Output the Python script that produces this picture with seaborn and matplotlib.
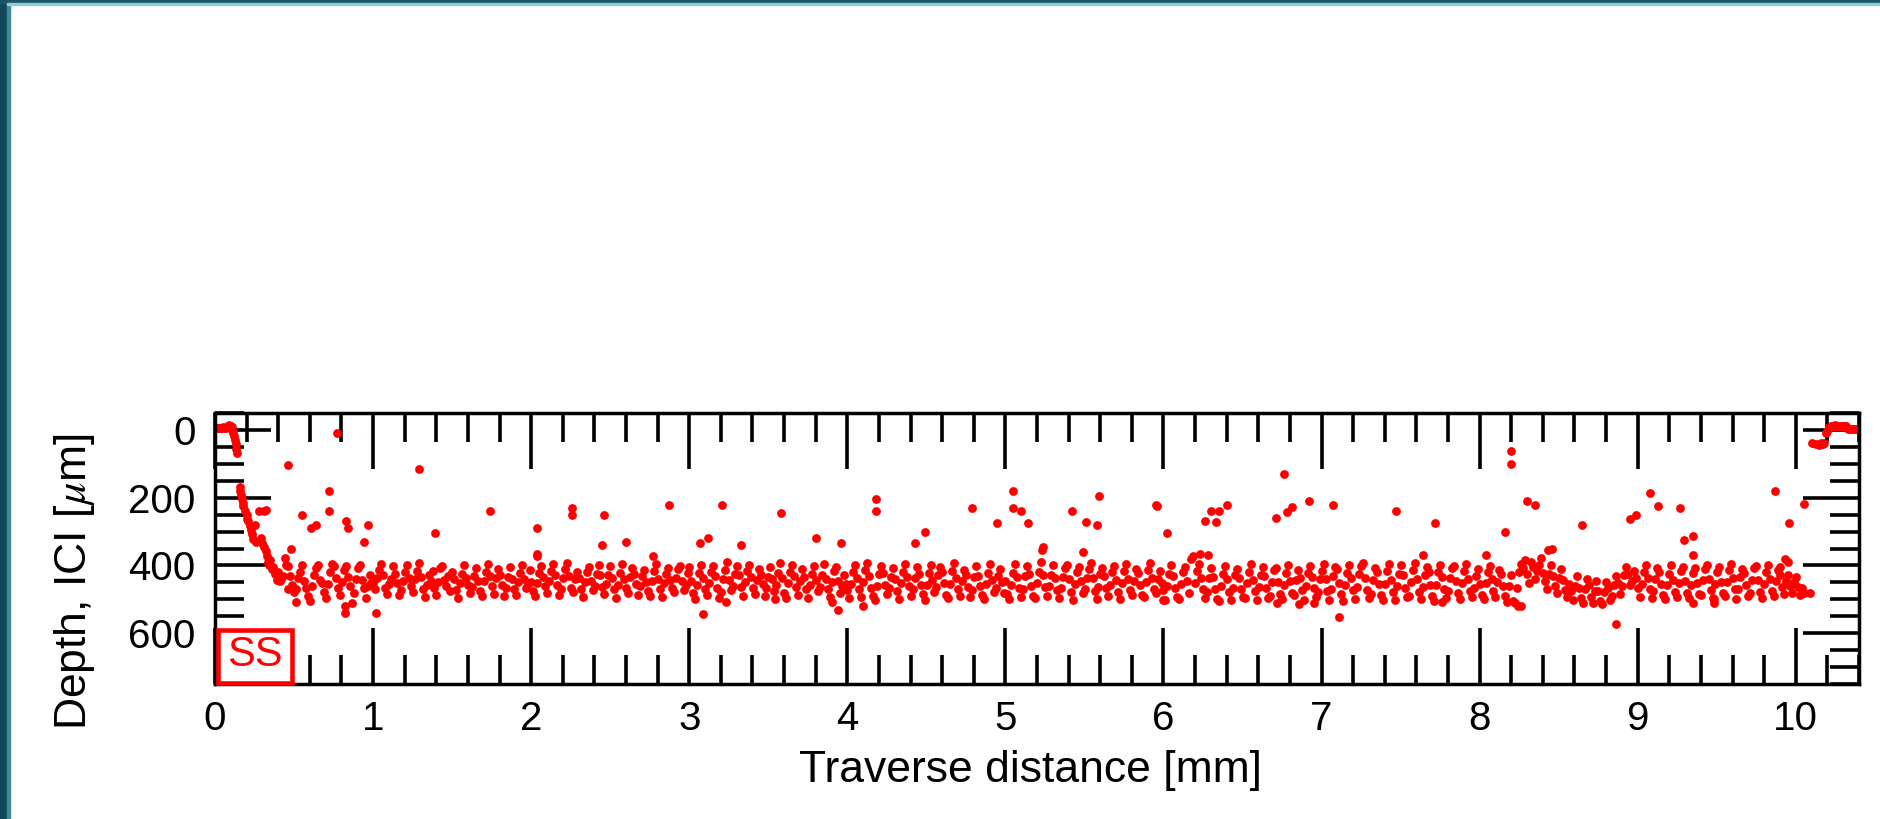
import numpy as np
import pandas as pd
import matplotlib
matplotlib.use("Agg")
import matplotlib.pyplot as plt
import seaborn as sns
from matplotlib.patches import Rectangle
from matplotlib.ticker import MultipleLocator, FixedLocator

# ---------------- data ----------------
start_x = [0.000, 0.010, 0.020, 0.030, 0.040, 0.050, 0.060, 0.070, 0.080, 0.090, 0.100, 0.105,
           0.110, 0.115, 0.120, 0.125, 0.130, 0.135, 0.140]
start_y = [-5, -6, -7, -5, -6, -8, -6, -5, -12, -14, -13, -8,
           0, 8, 18, 30, 42, 55, 68]

curve_x = [0.155, 0.160, 0.165, 0.170, 0.175, 0.180, 0.190, 0.200, 0.205, 0.210, 0.220, 0.225,
           0.235, 0.240, 0.250, 0.260, 0.280, 0.290, 0.300, 0.310, 0.310, 0.320, 0.320, 0.330,
           0.335, 0.340, 0.350, 0.360, 0.370, 0.380, 0.390, 0.400, 0.410, 0.420, 0.430, 0.440]
curve_y = [167, 180, 192, 203, 215, 226, 240, 251, 262, 270, 285, 296,
           308, 322, 281, 330, 240, 320, 335, 240, 345, 237, 356, 372,
           390, 400, 385, 410, 404, 424, 443, 420, 445, 440, 430, 379]

band_a = [398, 402, 431, 459, 478, 470, 436, 418, 400, 447, 468, 491, 505, 462, 428, 409, 399, 442,
          451, 478, 496, 455, 420, 395, 401, 437, 466, 488, 449, 414, 402, 433, 461, 512, 480, 441,
          409, 398, 442, 468, 495, 460, 427, 452]
band_b = [452, 471, 438, 412, 397, 429, 466, 484, 455, 441, 403, 424, 451, 487, 472, 446, 420, 398, 437, 460,
          478, 441, 415, 392, 433, 469, 494, 458, 427, 445, 416, 468, 488, 450, 409, 401, 442, 461, 432, 475,
          419, 440, 473, 496, 451, 426, 400, 436, 458, 482, 463, 431, 407, 445, 474, 489, 447, 418, 396, 431,
          462, 483, 437, 411, 428, 459, 491, 466, 434, 404, 439, 471, 486, 449, 422, 399, 441, 468, 455, 413]
band_c = [448, 476, 490, 452, 421, 401, 433, 461, 482, 447, 415, 396, 427, 458, 488, 469, 436, 410, 392, 431,
          466, 479, 440, 418, 438, 471, 493, 450, 419, 404, 445, 472, 460, 424, 398, 429, 463, 485, 455, 428,
          402, 437, 470, 496, 458, 421, 395, 441, 467, 481, 434, 407, 425, 456, 486, 462, 430, 412, 448, 475,
          489, 447, 416, 397, 439, 469, 492, 453, 426, 408, 443, 466, 478, 437, 411, 401, 446, 473, 459, 422]
band_d = [405, 447, 482, 498, 458, 423, 399, 436, 469, 487, 452, 418, 402, 431, 466, 495, 477, 440, 413, 391,
          444, 472, 461, 425, 403, 428, 463, 489, 450, 417, 398, 435, 468, 484, 442, 410, 427, 455, 490, 467,
          433, 406, 439, 474, 459, 421, 394, 437, 480, 496, 451, 419, 400, 430, 465, 488, 446, 411, 434, 470,
          495, 457, 424, 401, 443, 476, 463, 428, 397, 439, 471, 492, 448, 416, 405, 447, 482, 461, 429, 454]
band_e = [473, 497, 455, 419, 398, 437, 470, 492, 449, 414, 392, 431, 467, 489, 503, 461, 426, 401, 422, 458,
          485, 468, 433, 407, 440, 474, 499, 452, 418, 395, 435, 462, 490, 471, 436, 405, 426, 457, 483, 501,
          459, 423, 399, 442, 478, 465, 429, 404, 420, 451, 486, 496, 454, 417, 393, 438, 469, 491, 446, 412,
          427, 463, 494, 472, 434, 402, 430, 461, 488, 500, 455, 421, 397, 444, 477, 466, 432, 410, 448, 481]
band_f = [446, 485, 499, 458, 421, 396, 433, 468, 494, 470, 431, 403, 425, 461, 490, 497, 452, 418, 390, 429,
          464, 489, 462, 427, 400, 436, 472, 496, 466, 434, 408, 398, 441, 477, 501, 455, 420, 405, 447, 482,
          470, 436, 410, 393, 438, 474, 498, 463, 426, 409, 432, 468, 491, 457, 419, 401, 443, 479, 500, 451,
          417, 397, 440, 473, 488, 445, 411, 423, 459, 486, 493, 448, 413, 394, 437, 470, 482, 441, 415, 452]
band_g = [472, 503, 461, 424, 399, 431, 466, 494, 498, 455, 420, 404, 447, 482, 380, 372, 452, 416, 395, 438,
          469, 496, 479, 436, 408, 433, 471, 499, 505, 462, 425, 402, 440, 478, 502, 466, 428, 410, 436, 471,
          492, 497, 453, 418, 396, 442, 476, 503, 463, 427, 405, 431, 468, 495, 491, 449, 414, 407, 450, 484,
          500, 458, 421, 398, 446, 481, 486, 442, 412, 437, 472, 501, 460, 423, 401, 433, 467, 493, 478, 441]
band_h = [416, 397, 440, 476, 502, 469, 431, 405, 411, 452, 485, 504, 459, 421, 399, 438, 473, 498, 464, 426,
          403, 392, 437, 472, 497, 483, 444, 409, 418, 456, 488, 501, 455, 417, 396, 443, 478, 503, 461, 425,
          400, 427, 466, 494, 490, 448, 412, 393, 441, 477, 500, 465, 428, 404, 420, 458, 489, 504, 457, 419,
          398, 434, 470, 497, 474, 437, 407, 402, 445, 481, 499, 452, 415, 395, 439, 475, 492, 468, 430, 410]
band_i = [455, 487, 499, 451, 418, 401, 441, 475, 493, 448, 412, 426, 462, 490, 507, 460, 428, 505, 512, 466,
          420, 396, 407, 384, 424, 452, 391, 405, 440, 415, 398, 378, 421, 447, 470, 426, 399, 431, 462, 481,
          438, 410, 444, 473, 494, 455, 476, 503, 461, 432, 466, 497, 510, 469, 441, 459, 493, 512, 474, 447,
          475, 506, 515, 478, 450, 468, 501, 489, 458, 430, 451, 484, 462, 429, 405, 426, 458, 447, 416, 437]
band_j = [466, 493, 455, 420, 398, 437, 470, 497, 474, 441, 408, 419, 456, 488, 499, 459, 424, 400, 443, 477,
          494, 452, 416, 404, 446, 480, 497, 458, 423, 409, 451, 485, 488, 443, 411, 399, 440, 473, 496, 455,
          419, 405, 448, 482, 490, 449, 414, 397, 438, 470, 498, 471, 433, 410, 421, 458, 490, 481, 442, 407,
          403, 444, 478, 495, 456, 420, 399, 441, 474, 489, 447, 412, 429, 465, 484, 445, 428, 460, 481, 449,
          435, 463, 487, 466, 482]
band_segments = [(0.45, 0.99, band_a), (1.00, 1.99, band_b), (2.00, 2.99, band_c), (3.00, 3.99, band_d),
                 (4.00, 4.99, band_e), (5.00, 5.99, band_f), (6.00, 6.99, band_g), (7.00, 7.99, band_h),
                 (8.00, 8.99, band_i), (9.00, 10.05, band_j)]

outlier_x = [0.46, 0.77, 1.29, 0.72, 0.72, 0.55, 0.61, 0.64, 0.83, 0.84, 0.97, 0.94, 0.48, 1.39, 1.74,
             2.04, 2.26, 2.26, 2.46, 2.87, 3.21, 3.58, 4.18, 4.18, 3.80, 3.96, 3.07, 3.12, 3.33, 2.60,
             2.45, 2.04, 2.04, 2.77, 3.09, 3.23, 3.94, 3.90, 4.10, 3.54, 1.02, 0.82, 0.82, 0.51, 0.46,
             4.49, 4.43, 4.79, 4.95, 5.05, 5.05, 5.10, 5.14, 5.42, 5.51, 5.59, 5.58, 5.95, 5.96, 6.02,
             6.26, 6.30, 6.35, 6.33, 6.40, 6.76, 6.71, 6.78, 6.81, 6.92, 7.07, 7.47, 7.72, 8.20, 8.20,
             8.30, 8.35, 8.16, 8.43, 7.11, 6.72, 6.86, 6.95, 8.24, 7.76, 6.00, 5.23, 5.24, 5.49, 6.23,
             6.28, 7.64, 8.04, 8.65, 8.46, 8.95, 8.99, 9.08, 9.13, 9.27, 9.29, 9.35, 9.35, 9.87, 9.96,
             10.05, 8.86, 8.26, 9.35, 9.48, 9.48, 10.09, 9.93, 9.95, 9.90]
outlier_y = [104, 10, 115, 180, 240, 251, 290, 281, 269, 290, 281, 331, 350, 305, 240,
             290, 229, 251, 251, 221, 221, 246, 205, 239, 320, 335, 335, 320, 340, 330,
             340, 365, 372, 371, 542, 509, 532, 509, 520, 500, 540, 540, 520, 509, 470,
             300, 335, 230, 275, 180, 230, 240, 276, 240, 271, 196, 282, 222, 226, 305,
             268, 239, 239, 271, 221, 131, 261, 241, 227, 211, 221, 240, 276, 61, 100,
             211, 221, 300, 353, 552, 510, 514, 512, 520, 509, 502, 355, 345, 360, 366,
             370, 370, 370, 281, 352, 262, 252, 185, 224, 230, 326, 314, 370, 181, 276,
             220, 573, 521, 511, 499, 511, 481, 380, 390, 405]

end_x = [10.10, 10.13, 10.15, 10.16, 10.17, 10.18, 10.19, 10.20, 10.21, 10.22, 10.23, 10.24, 10.25,
         10.26, 10.27, 10.28, 10.29, 10.30, 10.31, 10.32, 10.33, 10.34, 10.35, 10.36, 10.37, 10.38,
         10.39, 10.40]
end_y = [40, 41, 44, 40, 42, 38, 10, 3, -8, -12, -13, -12, -14, -12, -13, -12, -11, -12, -13, -12,
         -3, -2, -3, -2, -2, -3, -2, -2]

x_ticks = [0, 1, 2, 3, 4, 5, 6, 7, 8, 9, 10]
y_ticks = [0, 200, 400, 600]

# ---------------- assemble ----------------
xs, ys = list(start_x) + list(curve_x), list(start_y) + list(curve_y)
for a, b, vals in band_segments:
    xs += list(np.linspace(a, b, len(vals)))
    ys += list(vals)
xs += outlier_x + end_x
ys += outlier_y + end_y
df = pd.DataFrame({"distance": xs, "depth": ys})

# ---------------- figure ----------------
sns.set_theme(style="ticks")
plt.rcParams["font.family"] = ["Liberation Sans", "DejaVu Sans"]
plt.rcParams["mathtext.fontset"] = "stix"
MAJ, MIN, TW = 40, 21, 2.6
plt.rcParams.update({
    "xtick.direction": "in", "ytick.direction": "in",
    "xtick.top": True, "ytick.right": True,
    "xtick.major.size": MAJ, "ytick.major.size": MAJ,
    "xtick.minor.size": MIN, "ytick.minor.size": MIN,
    "xtick.major.width": TW, "ytick.major.width": TW,
    "xtick.minor.width": TW, "ytick.minor.width": TW,
    "xtick.color": "black", "ytick.color": "black",
    "xtick.labelsize": 29, "ytick.labelsize": 29,
    "xtick.major.pad": 11.5, "ytick.major.pad": 14,
    "axes.linewidth": 2.5, "axes.edgecolor": "black",
})

W, H = 1880, 819
fig = plt.figure(figsize=(W / 100, H / 100), dpi=100, facecolor="white")
ax = fig.add_axes([215 / W, (H - 684) / H, 1644 / W, 271 / H])

sns.scatterplot(data=df, x="distance", y="depth", color="#ff0000", s=40,
                linewidth=0, ax=ax, legend=False, zorder=2)

ax.set_xlim(0, 10.4)
ax.set_ylim(750, -50)
ax.xaxis.set_major_locator(FixedLocator(x_ticks))
ax.xaxis.set_minor_locator(MultipleLocator(0.2))
ax.yaxis.set_major_locator(FixedLocator(y_ticks))
ax.yaxis.set_minor_locator(MultipleLocator(50))
ax.set_xticklabels([str(t) for t in x_ticks])
ax.set_yticklabels([str(t) for t in y_ticks])
ax.tick_params(which="both", direction="in", top=True, right=True)
ax.tick_params(which="major", length=MAJ, width=TW)
ax.tick_params(which="minor", length=MIN, width=TW)

ax.set_xlabel("Traverse distance [mm]", fontsize=32, color="black")
ax.xaxis.set_label_coords(0.496, -0.243)
ax.set_ylabel(r"Depth, ICI [$\mu$m]", fontsize=32, color="black")
ax.yaxis.set_label_coords(-0.0718, 0.376)

ax.add_patch(Rectangle((0.0018, 0.003), 0.045, 0.198, transform=ax.transAxes,
                       facecolor="white", edgecolor="#ff0000", linewidth=3.3,
                       zorder=5, clip_on=False))
ax.text(0.0243, 0.108, "SS", transform=ax.transAxes, ha="center", va="center",
        fontsize=30, color="#ff0000", zorder=6)

fig.add_artist(Rectangle((0, 0), 7 / W, 1, transform=fig.transFigure, color="#15475b", zorder=0))
fig.add_artist(Rectangle((7 / W, 0), 2.5 / W, 1, transform=fig.transFigure, color="#3a8c99", zorder=0))
fig.add_artist(Rectangle((0, 1 - 2.5 / H), 1, 2.5 / H, transform=fig.transFigure, color="#1b5566", zorder=0))
fig.add_artist(Rectangle((7 / W, 1 - 4.5 / H), 1, 2 / H, transform=fig.transFigure, color="#8fcbd1", zorder=0))

fig.savefig("out.png", dpi=100, facecolor="white")
